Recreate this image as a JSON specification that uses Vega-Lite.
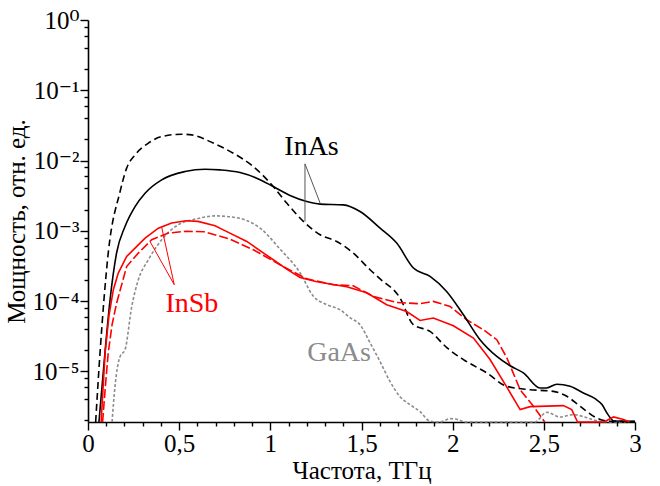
{
  "$schema": "https://vega.github.io/schema/vega-lite/v6.json",
  "width": 547,
  "height": 402,
  "autosize": {"type": "none"},
  "padding": {"left": 88, "top": 20, "right": 25, "bottom": 64},
  "background": "white",
  "config": {"view": {"stroke": null}, "font": "'Liberation Serif', 'Times New Roman', 'DejaVu Serif', serif"},
  "datasets": {
    "curves": [
      {"s": "InAs_d", "x": 0.042, "y": 1.9e-6},
      {"s": "InAs_d", "x": 0.066, "y": 1.84e-5},
      {"s": "InAs_d", "x": 0.111, "y": 4.82e-4},
      {"s": "InAs_d", "x": 0.176, "y": 3.62e-3},
      {"s": "InAs_d", "x": 0.212, "y": 7.79e-3},
      {"s": "InAs_d", "x": 0.258, "y": 1.20e-2},
      {"s": "InAs_d", "x": 0.331, "y": 1.77e-2},
      {"s": "InAs_d", "x": 0.404, "y": 2.19e-2},
      {"s": "InAs_d", "x": 0.514, "y": 2.37e-2},
      {"s": "InAs_d", "x": 0.569, "y": 2.32e-2},
      {"s": "InAs_d", "x": 0.687, "y": 1.77e-2},
      {"s": "InAs_d", "x": 0.797, "y": 1.27e-2},
      {"s": "InAs_d", "x": 0.907, "y": 8.20e-3},
      {"s": "InAs_d", "x": 1.016, "y": 4.26e-3},
      {"s": "InAs_d", "x": 1.090, "y": 2.48e-3},
      {"s": "InAs_d", "x": 1.181, "y": 1.36e-3},
      {"s": "InAs_d", "x": 1.273, "y": 8.77e-4},
      {"s": "InAs_d", "x": 1.364, "y": 7.05e-4},
      {"s": "InAs_d", "x": 1.455, "y": 4.82e-4},
      {"s": "InAs_d", "x": 1.547, "y": 2.79e-4},
      {"s": "InAs_d", "x": 1.602, "y": 2.07e-4},
      {"s": "InAs_d", "x": 1.711, "y": 1.11e-4},
      {"s": "InAs_d", "x": 1.784, "y": 4.61e-5},
      {"s": "InAs_d", "x": 1.876, "y": 3.70e-5},
      {"s": "InAs_d", "x": 1.968, "y": 2.17e-5},
      {"s": "InAs_d", "x": 2.059, "y": 1.47e-5},
      {"s": "InAs_d", "x": 2.187, "y": 9.48e-6},
      {"s": "InAs_d", "x": 2.297, "y": 6.11e-6},
      {"s": "InAs_d", "x": 2.425, "y": 5.48e-6},
      {"s": "InAs_d", "x": 2.552, "y": 5.19e-6},
      {"s": "InAs_d", "x": 2.626, "y": 4.41e-6},
      {"s": "InAs_d", "x": 2.699, "y": 3.18e-6},
      {"s": "InAs_d", "x": 2.790, "y": 2.17e-6},
      {"s": "InAs_d", "x": 2.863, "y": 1.95e-6},
      {"s": "InAs_d", "x": 3.0, "y": 1.93e-6},

      {"s": "InAs_s", "x": 0.060, "y": 1.9e-6},
      {"s": "InAs_s", "x": 0.093, "y": 1.84e-5},
      {"s": "InAs_s", "x": 0.121, "y": 1.045e-4},
      {"s": "InAs_s", "x": 0.157, "y": 4.87e-4},
      {"s": "InAs_s", "x": 0.203, "y": 1.15e-3},
      {"s": "InAs_s", "x": 0.258, "y": 2.21e-3},
      {"s": "InAs_s", "x": 0.313, "y": 3.43e-3},
      {"s": "InAs_s", "x": 0.404, "y": 5.31e-3},
      {"s": "InAs_s", "x": 0.532, "y": 6.97e-3},
      {"s": "InAs_s", "x": 0.642, "y": 7.53e-3},
      {"s": "InAs_s", "x": 0.724, "y": 7.36e-3},
      {"s": "InAs_s", "x": 0.834, "y": 6.74e-3},
      {"s": "InAs_s", "x": 0.925, "y": 5.61e-3},
      {"s": "InAs_s", "x": 1.016, "y": 4.26e-3},
      {"s": "InAs_s", "x": 1.108, "y": 3.18e-3},
      {"s": "InAs_s", "x": 1.200, "y": 2.61e-3},
      {"s": "InAs_s", "x": 1.273, "y": 2.40e-3},
      {"s": "InAs_s", "x": 1.400, "y": 2.34e-3},
      {"s": "InAs_s", "x": 1.492, "y": 1.88e-3},
      {"s": "InAs_s", "x": 1.602, "y": 1.09e-3},
      {"s": "InAs_s", "x": 1.693, "y": 6.68e-4},
      {"s": "InAs_s", "x": 1.785, "y": 2.95e-4},
      {"s": "InAs_s", "x": 1.876, "y": 2.24e-4},
      {"s": "InAs_s", "x": 1.968, "y": 1.36e-4},
      {"s": "InAs_s", "x": 2.059, "y": 6.39e-5},
      {"s": "InAs_s", "x": 2.150, "y": 2.82e-5},
      {"s": "InAs_s", "x": 2.242, "y": 1.63e-5},
      {"s": "InAs_s", "x": 2.315, "y": 1.20e-5},
      {"s": "InAs_s", "x": 2.388, "y": 9.48e-6},
      {"s": "InAs_s", "x": 2.479, "y": 5.80e-6},
      {"s": "InAs_s", "x": 2.516, "y": 5.80e-6},
      {"s": "InAs_s", "x": 2.571, "y": 6.56e-6},
      {"s": "InAs_s", "x": 2.644, "y": 6.11e-6},
      {"s": "InAs_s", "x": 2.717, "y": 4.92e-6},
      {"s": "InAs_s", "x": 2.781, "y": 4.08e-6},
      {"s": "InAs_s", "x": 2.819, "y": 3.36e-6},
      {"s": "InAs_s", "x": 2.852, "y": 2.42e-6},
      {"s": "InAs_s", "x": 2.885, "y": 1.96e-6},
      {"s": "InAs_s", "x": 3.0, "y": 1.95e-6},

      {"s": "InSb_s", "x": 0.072, "y": 1.9e-6},
      {"s": "InSb_s", "x": 0.083, "y": 6e-6},
      {"s": "InSb_s", "x": 0.094, "y": 1.84e-5},
      {"s": "InSb_s", "x": 0.115, "y": 6.2e-5},
      {"s": "InSb_s", "x": 0.139, "y": 1.45e-4},
      {"s": "InSb_s", "x": 0.166, "y": 2.50e-4},
      {"s": "InSb_s", "x": 0.212, "y": 4.31e-4},
      {"s": "InSb_s", "x": 0.258, "y": 5.67e-4},
      {"s": "InSb_s", "x": 0.313, "y": 7.87e-4},
      {"s": "InSb_s", "x": 0.386, "y": 1.09e-3},
      {"s": "InSb_s", "x": 0.459, "y": 1.29e-3},
      {"s": "InSb_s", "x": 0.538, "y": 1.39e-3},
      {"s": "InSb_s", "x": 0.603, "y": 1.36e-3},
      {"s": "InSb_s", "x": 0.697, "y": 1.18e-3},
      {"s": "InSb_s", "x": 0.742, "y": 1.03e-3},
      {"s": "InSb_s", "x": 0.871, "y": 7.05e-4},
      {"s": "InSb_s", "x": 1.016, "y": 3.87e-4},
      {"s": "InSb_s", "x": 1.090, "y": 2.85e-4},
      {"s": "InSb_s", "x": 1.163, "y": 2.17e-4},
      {"s": "InSb_s", "x": 1.250, "y": 1.90e-4},
      {"s": "InSb_s", "x": 1.327, "y": 1.75e-4},
      {"s": "InSb_s", "x": 1.419, "y": 1.60e-4},
      {"s": "InSb_s", "x": 1.529, "y": 1.31e-4},
      {"s": "InSb_s", "x": 1.638, "y": 8.87e-5},
      {"s": "InSb_s", "x": 1.748, "y": 7.11e-5},
      {"s": "InSb_s", "x": 1.821, "y": 5.30e-5},
      {"s": "InSb_s", "x": 1.894, "y": 5.74e-5},
      {"s": "InSb_s", "x": 2.004, "y": 4.46e-5},
      {"s": "InSb_s", "x": 2.114, "y": 2.98e-5},
      {"s": "InSb_s", "x": 2.205, "y": 1.47e-5},
      {"s": "InSb_s", "x": 2.297, "y": 5.95e-6},
      {"s": "InSb_s", "x": 2.370, "y": 2.85e-6},
      {"s": "InSb_s", "x": 2.425, "y": 3.14e-6},
      {"s": "InSb_s", "x": 2.516, "y": 3.20e-6},
      {"s": "InSb_s", "x": 2.607, "y": 3.25e-6},
      {"s": "InSb_s", "x": 2.653, "y": 2.85e-6},
      {"s": "InSb_s", "x": 2.685, "y": 1.9e-6},
      {"s": "InSb_s", "x": 2.830, "y": 1.9e-6},
      {"s": "InSb_s", "x": 2.882, "y": 2.24e-6},
      {"s": "InSb_s", "x": 2.937, "y": 2.06e-6},
      {"s": "InSb_s", "x": 2.970, "y": 1.9e-6},

      {"s": "InSb_d", "x": 0.080, "y": 1.9e-6},
      {"s": "InSb_d", "x": 0.095, "y": 6e-6},
      {"s": "InSb_d", "x": 0.111, "y": 1.84e-5},
      {"s": "InSb_d", "x": 0.132, "y": 4.6e-5},
      {"s": "InSb_d", "x": 0.157, "y": 9.37e-5},
      {"s": "InSb_d", "x": 0.212, "y": 3.10e-4},
      {"s": "InSb_d", "x": 0.276, "y": 4.82e-4},
      {"s": "InSb_d", "x": 0.349, "y": 7.45e-4},
      {"s": "InSb_d", "x": 0.440, "y": 9.27e-4},
      {"s": "InSb_d", "x": 0.538, "y": 9.84e-4},
      {"s": "InSb_d", "x": 0.636, "y": 9.68e-4},
      {"s": "InSb_d", "x": 0.779, "y": 7.62e-4},
      {"s": "InSb_d", "x": 0.907, "y": 5.37e-4},
      {"s": "InSb_d", "x": 1.053, "y": 3.28e-4},
      {"s": "InSb_d", "x": 1.200, "y": 2.07e-4},
      {"s": "InSb_d", "x": 1.346, "y": 1.71e-4},
      {"s": "InSb_d", "x": 1.455, "y": 1.65e-4},
      {"s": "InSb_d", "x": 1.565, "y": 1.16e-4},
      {"s": "InSb_d", "x": 1.693, "y": 9.55e-5},
      {"s": "InSb_d", "x": 1.821, "y": 9.16e-5},
      {"s": "InSb_d", "x": 1.894, "y": 9.88e-5},
      {"s": "InSb_d", "x": 1.986, "y": 8.38e-5},
      {"s": "InSb_d", "x": 2.077, "y": 5.42e-5},
      {"s": "InSb_d", "x": 2.168, "y": 3.91e-5},
      {"s": "InSb_d", "x": 2.242, "y": 2.82e-5},
      {"s": "InSb_d", "x": 2.297, "y": 1.56e-5},
      {"s": "InSb_d", "x": 2.370, "y": 5.48e-6},
      {"s": "InSb_d", "x": 2.443, "y": 3.18e-6},
      {"s": "InSb_d", "x": 2.505, "y": 1.9e-6},

      {"s": "GaAs", "x": 0.132, "y": 1.9e-6},
      {"s": "GaAs", "x": 0.148, "y": 6.11e-6},
      {"s": "GaAs", "x": 0.176, "y": 1.63e-5},
      {"s": "GaAs", "x": 0.203, "y": 2.03e-5},
      {"s": "GaAs", "x": 0.240, "y": 8.38e-5},
      {"s": "GaAs", "x": 0.276, "y": 2.01e-4},
      {"s": "GaAs", "x": 0.331, "y": 3.87e-4},
      {"s": "GaAs", "x": 0.404, "y": 7.45e-4},
      {"s": "GaAs", "x": 0.495, "y": 1.22e-3},
      {"s": "GaAs", "x": 0.596, "y": 1.48e-3},
      {"s": "GaAs", "x": 0.697, "y": 1.63e-3},
      {"s": "GaAs", "x": 0.779, "y": 1.58e-3},
      {"s": "GaAs", "x": 0.861, "y": 1.43e-3},
      {"s": "GaAs", "x": 0.944, "y": 1.09e-3},
      {"s": "GaAs", "x": 1.053, "y": 5.5e-4},
      {"s": "GaAs", "x": 1.163, "y": 2.53e-4},
      {"s": "GaAs", "x": 1.234, "y": 1.19e-4},
      {"s": "GaAs", "x": 1.311, "y": 8.87e-5},
      {"s": "GaAs", "x": 1.382, "y": 7.53e-5},
      {"s": "GaAs", "x": 1.437, "y": 5.79e-5},
      {"s": "GaAs", "x": 1.492, "y": 4.61e-5},
      {"s": "GaAs", "x": 1.547, "y": 2.55e-5},
      {"s": "GaAs", "x": 1.602, "y": 1.37e-5},
      {"s": "GaAs", "x": 1.657, "y": 7.13e-6},
      {"s": "GaAs", "x": 1.711, "y": 4.36e-6},
      {"s": "GaAs", "x": 1.766, "y": 3.36e-6},
      {"s": "GaAs", "x": 1.821, "y": 2.67e-6},
      {"s": "GaAs", "x": 1.876, "y": 1.95e-6},
      {"s": "GaAs", "x": 1.930, "y": 1.9e-6},
      {"s": "GaAs", "x": 1.986, "y": 2.12e-6},
      {"s": "GaAs", "x": 2.030, "y": 2.05e-6},
      {"s": "GaAs", "x": 2.068, "y": 1.9e-6},
      {"s": "GaAs", "x": 2.450, "y": 1.9e-6},
      {"s": "GaAs", "x": 2.516, "y": 2.61e-6},
      {"s": "GaAs", "x": 2.589, "y": 2.24e-6},
      {"s": "GaAs", "x": 2.662, "y": 2.42e-6},
      {"s": "GaAs", "x": 2.735, "y": 2.19e-6},
      {"s": "GaAs", "x": 2.808, "y": 1.94e-6},
      {"s": "GaAs", "x": 2.890, "y": 1.9e-6},
      {"s": "GaAs", "x": 2.950, "y": 1.9e-6}
    ],
    "leaders": [
      {"g": "InAs", "x": 1.190, "y": 8.96e-3, "x2": 1.190, "y2": 1.36e-3},
      {"g": "InAs", "x": 1.190, "y": 8.96e-3, "x2": 1.273, "y2": 2.48e-3},
      {"g": "InSb", "x": 0.473, "y": 1.71e-4, "x2": 0.404, "y2": 1.13e-3},
      {"g": "InSb", "x": 0.473, "y": 1.71e-4, "x2": 0.340, "y2": 7.05e-4}
    ],
    "notes": [
      {"t": "InAs", "x": 1.226, "y": 1.20e-2},
      {"t": "InSb", "x": 0.570, "y": 7.05e-5},
      {"t": "GaAs", "x": 1.377, "y": 1.39e-5}
    ]
  },
  "encoding": {
    "x": {
      "field": "x", "type": "quantitative",
      "scale": {"domain": [0, 3], "nice": false, "zero": false},
      "axis": {
        "title": "Частота, ТГц",
        "values": [0,0.1,0.2,0.3,0.4,0.5,0.6,0.7,0.8,0.9,1,1.1,1.2,1.3,1.4,1.5,1.6,1.7,1.8,1.9,2,2.1,2.2,2.3,2.4,2.5,2.6,2.7,2.8,2.9,3],
        "labelExpr": "abs(datum.value*2 - round(datum.value*2)) < 0.01 ? replace(datum.value + '', '.', ',') : ''",
        "tickSize": {"condition": {"test": "abs(datum.value*2 - round(datum.value*2)) < 0.01", "value": 8}, "value": 4},
        "labelOverlap": false,
        "labelFlush": false,
        "grid": false,
        "domainColor": "#000", "domainWidth": 1.6,
        "tickColor": "#000", "tickWidth": 1.4,
        "labelFont": "'Liberation Serif', 'Times New Roman', 'DejaVu Serif', serif", "labelFontSize": 25, "labelColor": "#000", "labelPadding": 1,
        "titleFont": "'Liberation Serif', 'Times New Roman', 'DejaVu Serif', serif", "titleFontSize": 25, "titleFontWeight": "normal", "titleColor": "#000", "titlePadding": 2
      }
    },
    "y": {
      "field": "y", "type": "quantitative",
      "scale": {"type": "log", "domain": [1.9e-6, 1], "nice": false},
      "axis": {
        "title": "Мощность, отн. ед.",
        "values": [2e-6,4e-6,6e-6,8e-6,1e-5,2e-5,4e-5,6e-5,8e-5,1e-4,2e-4,4e-4,6e-4,8e-4,1e-3,2e-3,4e-3,6e-3,8e-3,1e-2,2e-2,4e-2,6e-2,8e-2,0.1,0.2,0.4,0.6,0.8,1],
        "labelExpr": "abs(log(datum.value)/LN10 - round(log(datum.value)/LN10)) < 0.01 ? '10' + (round(log(datum.value)/LN10) < 0 ? '⁻' : '') + ['⁰','¹','²','³','⁴','⁵','⁶','⁷','⁸','⁹'][abs(round(log(datum.value)/LN10))] : ''",
        "tickSize": {"condition": {"test": "abs(log(datum.value)/LN10 - round(log(datum.value)/LN10)) < 0.01", "value": 8}, "value": 4},
        "labelOverlap": false,
        "labelFlush": false,
        "grid": false,
        "domainColor": "#000", "domainWidth": 1.6,
        "tickColor": "#000", "tickWidth": 1.4,
        "labelFont": "'Liberation Serif', 'Times New Roman', 'DejaVu Serif', serif", "labelFontSize": 25, "labelColor": "#000", "labelPadding": 1,
        "titleFont": "'Liberation Serif', 'Times New Roman', 'DejaVu Serif', serif", "titleFontSize": 25, "titleFontWeight": "normal", "titleColor": "#000", "titlePadding": 3
      }
    }
  },
  "layer": [
    {
      "data": {"name": "curves"},
      "transform": [{"filter": "datum.s == 'GaAs'"}],
      "mark": {"type": "line", "strokeWidth": 1.6, "interpolate": "monotone", "strokeDash": [3, 2], "color": "#8c8c8c"},
      "encoding": {}
    },
    {
      "data": {"name": "curves"},
      "transform": [{"filter": "datum.s == 'InAs_d'"}],
      "mark": {"type": "line", "strokeWidth": 1.6, "interpolate": "monotone", "strokeDash": [7, 4], "color": "#000000"},
      "encoding": {}
    },
    {
      "data": {"name": "curves"},
      "transform": [{"filter": "datum.s == 'InSb_d'"}],
      "mark": {"type": "line", "strokeWidth": 1.6, "interpolate": "linear", "strokeDash": [9, 3], "color": "#ff0000"},
      "encoding": {}
    },
    {
      "data": {"name": "curves"},
      "transform": [{"filter": "datum.s == 'InAs_s'"}],
      "mark": {"type": "line", "strokeWidth": 1.6, "interpolate": "monotone", "color": "#000000"},
      "encoding": {}
    },
    {
      "data": {"name": "curves"},
      "transform": [{"filter": "datum.s == 'InSb_s'"}],
      "mark": {"type": "line", "strokeWidth": 1.6, "interpolate": "linear", "color": "#ff0000"},
      "encoding": {}
    },
    {
      "data": {"name": "leaders"},
      "transform": [{"filter": "datum.g == 'InAs'"}],
      "mark": {"type": "rule", "color": "#555555", "strokeWidth": 1},
      "encoding": {"x2": {"field": "x2"}, "y2": {"field": "y2"}}
    },
    {
      "data": {"name": "leaders"},
      "transform": [{"filter": "datum.g == 'InSb'"}],
      "mark": {"type": "rule", "color": "#ff0000", "strokeWidth": 1},
      "encoding": {"x2": {"field": "x2"}, "y2": {"field": "y2"}}
    },
    {
      "data": {"name": "notes"},
      "transform": [{"filter": "datum.t == 'InAs'"}],
      "mark": {"type": "text", "font": "'Liberation Serif', 'Times New Roman', 'DejaVu Serif', serif", "fontSize": 28, "align": "center", "baseline": "alphabetic", "color": "#000000"},
      "encoding": {"text": {"field": "t"}}
    },
    {
      "data": {"name": "notes"},
      "transform": [{"filter": "datum.t == 'InSb'"}],
      "mark": {"type": "text", "font": "'Liberation Serif', 'Times New Roman', 'DejaVu Serif', serif", "fontSize": 28, "align": "center", "baseline": "alphabetic", "color": "#ff0000"},
      "encoding": {"text": {"field": "t"}}
    },
    {
      "data": {"name": "notes"},
      "transform": [{"filter": "datum.t == 'GaAs'"}],
      "mark": {"type": "text", "font": "'Liberation Serif', 'Times New Roman', 'DejaVu Serif', serif", "fontSize": 28, "align": "center", "baseline": "alphabetic", "color": "#8c8c8c"},
      "encoding": {"text": {"field": "t"}}
    }
  ]
}
